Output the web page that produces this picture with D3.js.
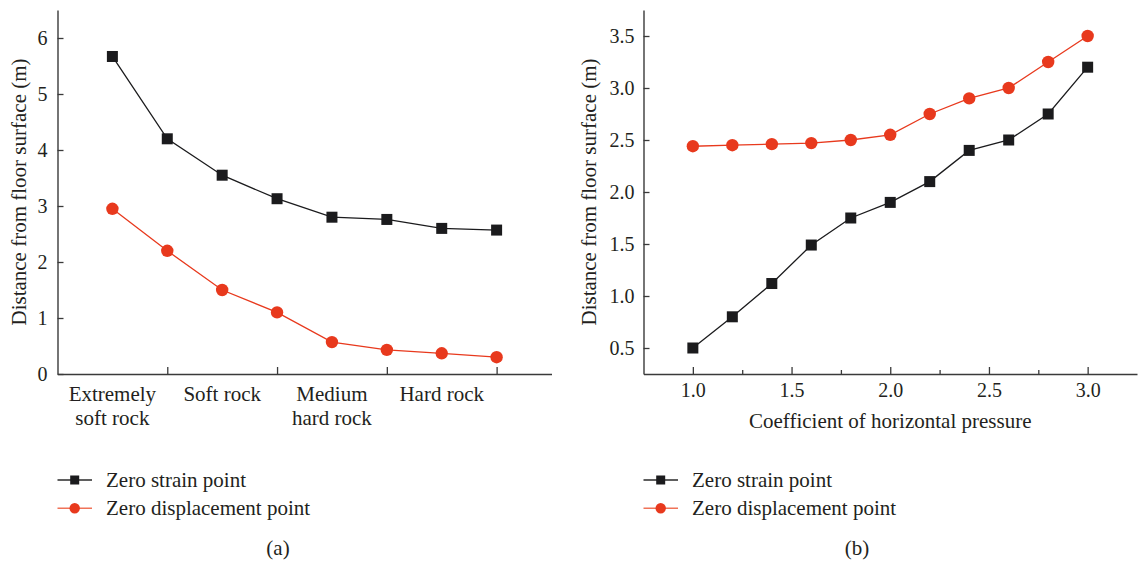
<!DOCTYPE html>
<html>
<head>
<meta charset="utf-8">
<script src="https://cdn.jsdelivr.net/npm/d3@7"></script>
<style>
  html, body { margin: 0; padding: 0; background: #fff; }
  svg { display: block; font-family: "Liberation Serif", "Times New Roman", serif; }
</style>
</head>
<body>
<div id="chart"></div>
<script>
// Panel (a): rock type
const rockLabels = [["Extremely", "soft rock"], ["Soft rock"], ["Medium", "hard rock"], ["Hard rock"]];
const rockLabelIndex = [0, 2, 4, 6];
const rockIndex = [0, 1, 2, 3, 4, 5, 6, 7];
const rockStrain = [5.67, 4.2, 3.55, 3.13, 2.8, 2.76, 2.6, 2.57];
const rockDisp = [2.95, 2.2, 1.5, 1.1, 0.57, 0.43, 0.37, 0.3];
const rockYTicks = [0, 1, 2, 3, 4, 5, 6];

// Panel (b): coefficient of horizontal pressure
const coef = [1.0, 1.2, 1.4, 1.6, 1.8, 2.0, 2.2, 2.4, 2.6, 2.8, 3.0];
const coefStrain = [0.5, 0.8, 1.12, 1.49, 1.75, 1.9, 2.1, 2.4, 2.5, 2.75, 3.2];
const coefDisp = [2.44, 2.45, 2.46, 2.47, 2.5, 2.55, 2.75, 2.9, 3.0, 3.25, 3.5];
const coefXTicks = [1.0, 1.5, 2.0, 2.5, 3.0];
const coefXMinor = [1.25, 1.75, 2.25, 2.75];
const coefYTicks = [0.5, 1.0, 1.5, 2.0, 2.5, 3.0, 3.5];

const seriesNames = ["Zero strain point", "Zero displacement point"];

const W = 1138, H = 561;
const ink = '#231f20';
const black = '#1b1b1d';
const red = '#e8391d';

const svg = d3.select('#chart').append('svg')
  .attr('width', W)
  .attr('height', H);

function styleAxis(g) {
  g.select('.domain').attr('stroke', '#3a3a3a').attr('stroke-width', 1.4);
  g.selectAll('.tick line').attr('stroke', '#3a3a3a').attr('stroke-width', 1.3);
  g.selectAll('.tick text')
    .attr('fill', ink)
    .attr('font-size', '20px')
    .attr('font-family', '"Liberation Serif", serif');
}

function drawSeries(g, xs, ys, x, y, color, shape) {
  const pts = xs.map((d, i) => [d, ys[i]]);
  g.append('path')
    .datum(pts)
    .attr('fill', 'none')
    .attr('stroke', color)
    .attr('stroke-width', 1.3)
    .attr('d', d3.line().x(d => x(d[0])).y(d => y(d[1])));
  if (shape === 'square') {
    g.selectAll(null).data(pts).enter().append('rect')
      .attr('x', d => x(d[0]) - 5.5)
      .attr('y', d => y(d[1]) - 5.5)
      .attr('width', 11)
      .attr('height', 11)
      .attr('fill', color);
  } else {
    g.selectAll(null).data(pts).enter().append('circle')
      .attr('cx', d => x(d[0]))
      .attr('cy', d => y(d[1]))
      .attr('r', 6.2)
      .attr('fill', color);
  }
}

function yTitle(xPos, yMid) {
  svg.append('text')
    .attr('transform', `translate(${xPos},${yMid}) rotate(-90)`)
    .attr('text-anchor', 'middle')
    .attr('dominant-baseline', 'central')
    .attr('fill', ink)
    .attr('font-size', '21px')
    .text('Distance from floor surface (m)');
}

function legend(x0, y0, caption, capX) {
  const rows = [
    { name: seriesNames[0], color: black, line: '#2a2a2a', shape: 'square' },
    { name: seriesNames[1], color: red, line: '#f07358', shape: 'circle' }
  ];
  rows.forEach((r, i) => {
    const cy = y0 + i * 28.3;
    svg.append('line')
      .attr('x1', x0).attr('x2', x0 + 34.5)
      .attr('y1', cy).attr('y2', cy)
      .attr('stroke', r.line).attr('stroke-width', 1.4);
    if (r.shape === 'square') {
      svg.append('rect')
        .attr('x', x0 + 17.2 - 4.5).attr('y', cy - 4.5)
        .attr('width', 9).attr('height', 9)
        .attr('fill', r.color);
    } else {
      svg.append('circle')
        .attr('cx', x0 + 17.2).attr('cy', cy).attr('r', 5.2)
        .attr('fill', r.color);
    }
    svg.append('text')
      .attr('x', x0 + 48.5).attr('y', cy)
      .attr('dominant-baseline', 'central')
      .attr('fill', ink)
      .attr('font-size', '21px')
      .text(r.name);
  });
  svg.append('text')
    .attr('x', capX).attr('y', 548)
    .attr('text-anchor', 'middle')
    .attr('dominant-baseline', 'central')
    .attr('fill', ink)
    .attr('font-size', '21px')
    .text(caption);
}

// ---------- Panel (a) ----------
const xa = d3.scaleLinear().domain([-1, 8]).range([57.5, 551.5]);
const ya = d3.scaleLinear().domain([0, 6.5]).range([374, 10]);
const ga = svg.append('g');

ga.append('g')
  .attr('transform', `translate(0,${ya(0)})`)
  .call(d3.axisBottom(xa).tickValues([1, 3, 5, 7]).tickFormat('').tickSizeInner(-7).tickSizeOuter(0))
  .call(styleAxis);

ga.append('g')
  .attr('transform', `translate(${xa(-1)},0)`)
  .call(d3.axisLeft(ya).tickValues(rockYTicks).tickFormat(d3.format('d')).tickSizeInner(-6).tickSizeOuter(0).tickPadding(10))
  .call(styleAxis);

rockLabels.forEach((lines, i) => {
  const t = ga.append('text')
    .attr('text-anchor', 'middle')
    .attr('fill', ink)
    .attr('font-size', '21px');
  lines.forEach((ln, j) => {
    t.append('tspan')
      .attr('x', xa(rockLabelIndex[i]))
      .attr('y', 401 + j * 24)
      .text(ln);
  });
});

drawSeries(ga, rockIndex, rockStrain, xa, ya, black, 'square');
drawSeries(ga, rockIndex, rockDisp, xa, ya, red, 'circle');
yTitle(19, 192);

// ---------- Panel (b) ----------
const xb = d3.scaleLinear().domain([0.75, 3.25]).range([643.5, 1137]);
const yb = d3.scaleLinear().domain([0.25, 3.75]).range([374, 10]);
const gb = svg.append('g');

gb.append('g')
  .attr('transform', `translate(0,${yb(0.25)})`)
  .call(d3.axisBottom(xb).tickValues(coefXTicks).tickFormat(d3.format('.1f')).tickSizeInner(-7).tickSizeOuter(0).tickPadding(9))
  .call(styleAxis);

gb.append('g')
  .attr('transform', `translate(0,${yb(0.25)})`)
  .call(d3.axisBottom(xb).tickValues(coefXMinor).tickFormat('').tickSizeInner(-4).tickSizeOuter(0))
  .call(styleAxis)
  .call(g => g.select('.domain').remove());

gb.append('g')
  .attr('transform', `translate(${xb(0.75)},0)`)
  .call(d3.axisLeft(yb).tickValues(coefYTicks).tickFormat(d3.format('.1f')).tickSizeInner(-6).tickSizeOuter(0).tickPadding(9))
  .call(styleAxis);

gb.append('text')
  .attr('x', (xb(1.0) + xb(3.0)) / 2)
  .attr('y', 428)
  .attr('text-anchor', 'middle')
  .attr('fill', ink)
  .attr('font-size', '21px')
  .text('Coefficient of horizontal pressure');

drawSeries(gb, coef, coefDisp, xb, yb, red, 'circle');
drawSeries(gb, coef, coefStrain, xb, yb, black, 'square');
yTitle(589, 192);

legend(57.5, 480, '(a)', 278);
legend(643.5, 480, '(b)', 857);
</script>
</body>
</html>
